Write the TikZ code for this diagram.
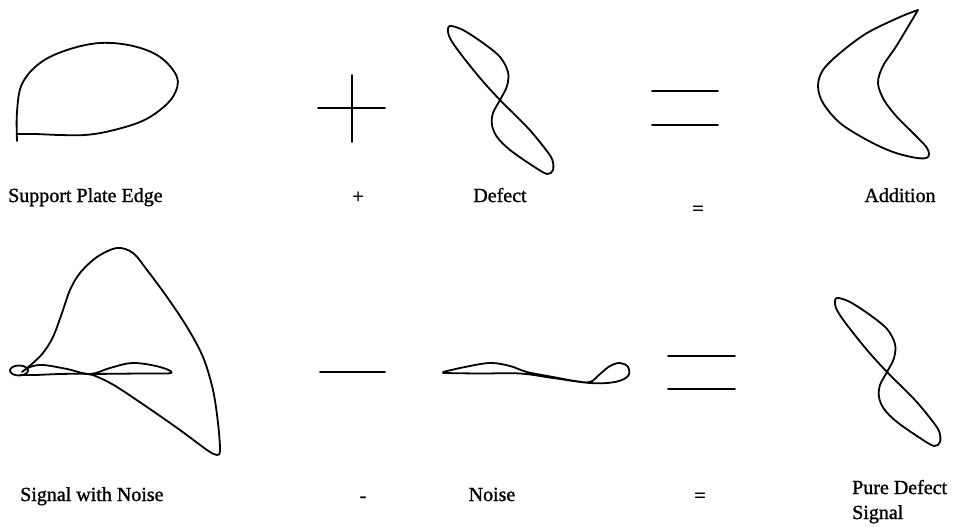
\documentclass[tikz,border=0pt]{standalone}
\usepackage{fontspec}
\setmainfont{Liberation Serif}
\newfontfamily\lblfont[FakeBold=1.2]{Liberation Serif}
\begin{document}
\begin{tikzpicture}[x=1pt,y=-1pt,
  curve/.style={line width=1.8pt, line join=round, line cap=round},
  lbl/.style={inner sep=0pt, font=\lblfont\fontsize{20}{23}\selectfont}]
\useasboundingbox (0,0) rectangle (959,527);
% Support plate edge
\draw[curve] plot[smooth, tension=0.6] coordinates {(17,141) (17,112) (22,84) (40,63) (67,50) (100,43) (133,46) (160,57) (177,77) (174,95) (160,110) (140,122) (110,131) (85,135) (60,135) (35,134) (18,134)};
% plus
\draw[curve] (318,108) -- (385,108);
\draw[curve] (352,75) -- (352,142);
% defect
\draw[curve] plot[smooth cycle, tension=0.55] coordinates {(450,26) (463,30) (483,43) (500,57) (508,72) (507,86) (500,100) (493,113) (492,125) (497,137) (510,150) (533,166) (547,174) (553,170) (552,159) (543,146) (527,127) (500,100) (480,78) (460,53) (451,40) (448,32)};
% equals top
\draw[curve] (652,91) -- (718,91);
\draw[curve] (652,125) -- (718,125);
% addition
\draw[curve] plot[smooth, tension=0.55] coordinates {(918,10) (900,17) (867,33) (840,53) (823,70) (818,86) (823,103) (840,123) (867,140) (893,152) (917,158) (928,157) (927,148) (913,133) (897,117) (884,100) (878,83) (883,66) (897,45) (918,10)};
% signal with noise
\draw[curve] plot[smooth, tension=0.55] coordinates {(27,368) (33,363) (43,353) (53,337) (62,313) (70,290) (80,273) (97,257) (117,248) (133,253) (147,270) (167,297) (187,327) (203,357) (213,390) (218,423) (220,450) (217,455) (207,450) (180,430) (147,407) (117,387) (100,378) (87,374) (60,374) (35,375) (20,375)};
\draw[curve] (19,370.5) ellipse [x radius=9, y radius=5];
\draw[curve] plot[smooth, tension=0.6] coordinates {(22,372) (30,367) (43,365) (67,369) (90,374) (110,368) (133,363) (160,367) (171,373) (140,373.5) (90,374)};
% minus
\draw[curve] (320,372) -- (385,372);
% noise
\draw[curve] plot[smooth, tension=0.6] coordinates {(443,372) (465,367) (490,363) (510,366) (527,372) (553,377) (575,381) (590,382) (600,374) (610,366) (620,363) (628,367) (628,376) (615,382) (590,383) (553,378) (520,373.5) (480,373.5) (443,373)};
% equals bottom
\draw[curve] (668,356) -- (735,356);
\draw[curve] (668,389) -- (735,389);
% pure defect
\begin{scope}[shift={(387,272)}]
\draw[curve] plot[smooth cycle, tension=0.55] coordinates {(450,26) (463,30) (483,43) (500,57) (508,72) (507,86) (500,100) (493,113) (492,125) (497,137) (510,150) (533,166) (547,174) (553,170) (552,159) (543,146) (527,127) (500,100) (480,78) (460,53) (451,40) (448,32)};
\end{scope}
% labels
\node[lbl, anchor=base west] (l1) at (8,202) {Support Plate Edge};
\node[lbl, anchor=base] (l2) at (358,203) {+};
\node[lbl, anchor=base] (l3) at (500,202) {Defect};
\node[lbl, anchor=base] (l4) at (698,215) {=};
\node[lbl, anchor=base] (l5) at (900,202) {Addition};
\node[lbl, anchor=base west] (l6) at (20,501) {Signal with Noise};
\node[lbl, anchor=base] (l7) at (363,502) {-};
\node[lbl, anchor=base] (l8) at (492,501) {Noise};
\node[lbl, anchor=base] (l9) at (700,502) {=};
\node[lbl, anchor=base west] (l10) at (852,494) {Pure Defect};
\node[lbl, anchor=base west] (l11) at (852,519) {Signal};
\end{tikzpicture}
\end{document}
